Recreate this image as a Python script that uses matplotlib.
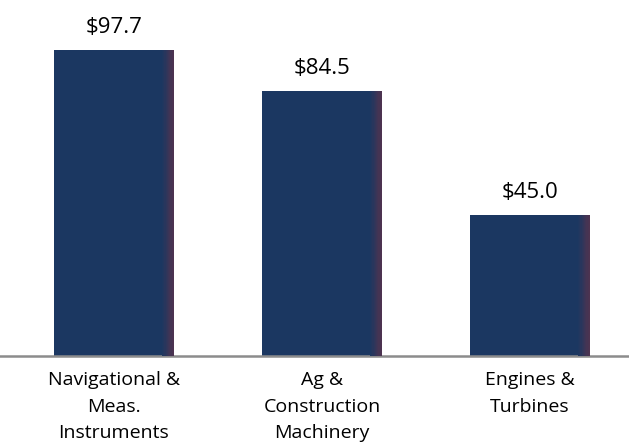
import numpy as np
import matplotlib.pyplot as plt

categories = ["Navigational &\nMeas.\nInstruments", "Ag &\nConstruction\nMachinery", "Engines &\nTurbines"]
values = [97.7, 84.5, 45.0]
value_labels = ["$97.7", "$84.5", "$45.0"]

plt.rcParams['font.family'] = ['Open Sans', 'DejaVu Sans']

fig = plt.figure(figsize=(6.29, 4.42), dpi=100)
ax = fig.add_axes([0, 0.1946, 1, 0.8054])

x = np.arange(len(categories))
w = 0.577
ax.bar(x, values, width=w, color='#1b3761', zorder=2)
# purple shading toward the right edge of each bar
edge_cols = ['#1e3760', '#22375f', '#28365d', '#2e365b', '#343559', '#3a3557', '#403455', '#453453', '#4a3351', '#4d3350']
sw = 0.0058
for i, c in enumerate(edge_cols):
    ax.bar(x + w / 2 - (len(edge_cols) - i) * sw, values, width=sw, align='edge',
           color=c, zorder=3, linewidth=0)

for xi, v, lab in zip(x, values, value_labels):
    ax.annotate(lab, (xi, v), xytext=(0, 9), textcoords='offset points',
                ha='center', va='bottom', fontsize=16)

ax.set_xlim(-0.548, 2.476)
ax.set_ylim(0, 113.7)
ax.set_yticks([])
ax.set_xticks(x)
ax.set_xticklabels(categories, fontsize=14, linespacing=1.6)
ax.tick_params(axis='x', length=0, pad=11)
for s in ['top', 'right', 'left']:
    ax.spines[s].set_visible(False)
ax.spines['bottom'].set_color('#8c8c8c')
ax.spines['bottom'].set_linewidth(1.8)

fig.savefig('out.png', dpi=100)
